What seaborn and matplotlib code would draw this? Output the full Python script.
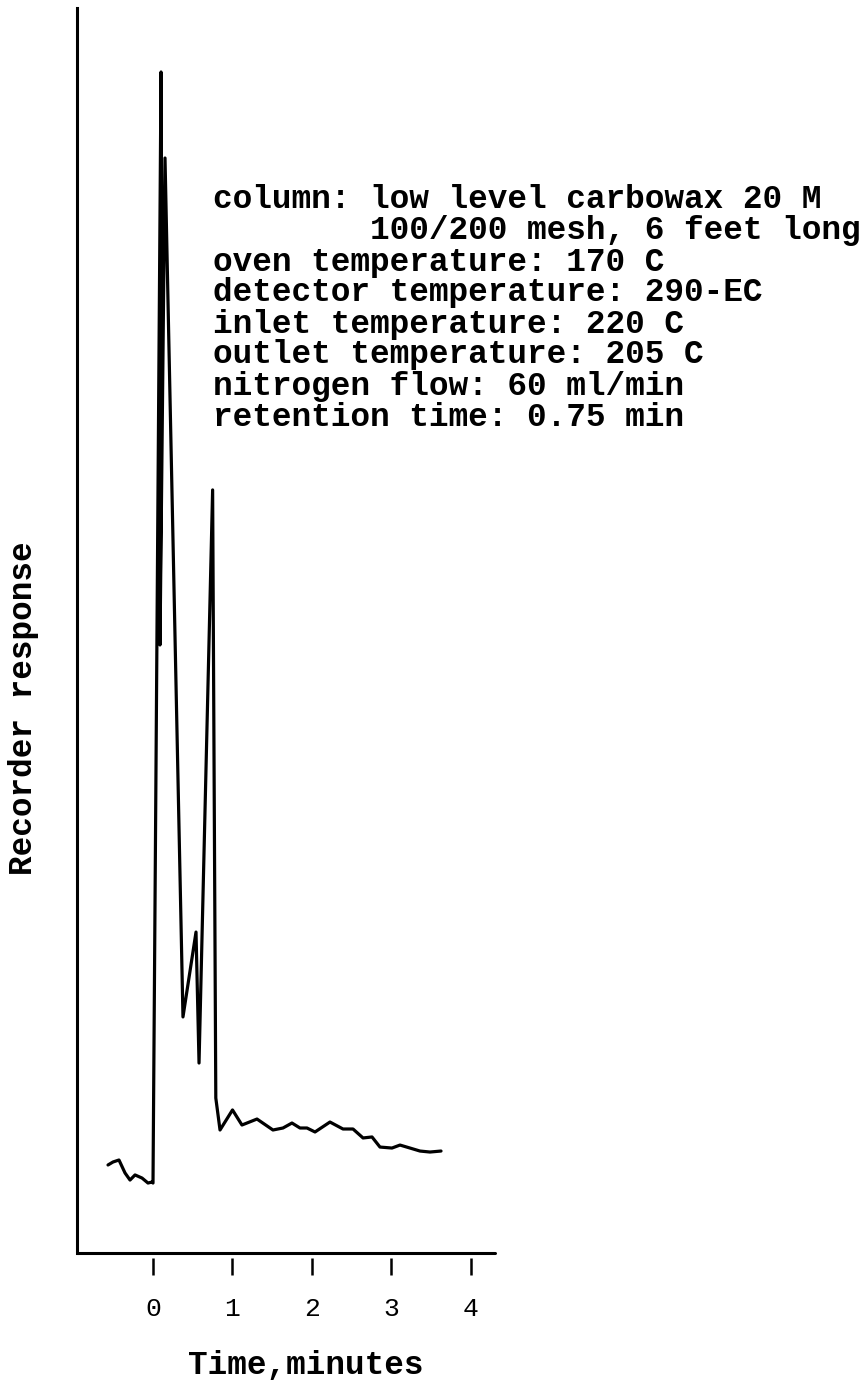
import matplotlib
matplotlib.use("Agg")
import matplotlib.pyplot as plt
import numpy as np
import pandas as pd
import seaborn as sns

# Chromatogram trace: time after injection (min) vs recorder response (% of full scale)
time_min = [-0.566, -0.503, -0.428, -0.352, -0.289, -0.226, -0.138, -0.063, -0.013,
            0.000, 0.101, 0.113, 0.088, 0.151, 0.377, 0.541, 0.579,
            0.750, 0.790, 0.843, 1.000, 1.119, 1.308, 1.509, 1.635, 1.748,
            1.849, 1.937, 2.038, 2.226, 2.390, 2.516, 2.642, 2.755, 2.855,
            3.006, 3.107, 3.233, 3.358, 3.484, 3.623]
response = [7.07, 7.31, 7.47, 6.43, 5.86, 6.27, 6.02, 5.62, 5.70,
            5.62, 94.86, 76.55, 48.84, 87.95, 18.96, 25.78, 15.26,
            61.29, 12.45, 9.88, 11.49, 10.28, 10.76, 9.88, 10.04, 10.44,
            10.04, 10.04, 9.72, 10.52, 9.96, 9.96, 9.24, 9.32, 8.51,
            8.43, 8.67, 8.43, 8.19, 8.11, 8.19]

x_ticks = [0, 1, 2, 3, 4]
x_tick_labels = ["0", "1", "2", "3", "4"]

retention_time = 0.75
conditions = [
    "column: low level carbowax 20 M",
    "        100/200 mesh, 6 feet long",
    "oven temperature: 170 C",
    "detector temperature: 290-EC",
    "inlet temperature: 220 C",
    "outlet temperature: 205 C",
    "nitrogen flow: 60 ml/min",
    f"retention time: {retention_time:.2f} min",
]

df = pd.DataFrame({"time": time_min, "response": response})

sns.set_style("white")
plt.rcParams["font.family"] = ["Liberation Mono", "DejaVu Sans"]
plt.rcParams["text.color"] = "black"
plt.rcParams["axes.labelcolor"] = "black"
plt.rcParams["xtick.color"] = "black"

W, H = 866, 1381
fig = plt.figure(figsize=(W / 100, H / 100), dpi=100)
ax = fig.add_axes([77 / W, 128 / H, 418 / W, 1245 / H])

sns.lineplot(data=df, x="time", y="response", sort=False, estimator=None,
             color="black", linewidth=2.3, ax=ax)

ax.set_xlim(-0.956, 4.302)
ax.set_ylim(0, 100)

# axes frame: left spine plus a baseline, ticks hang just below it
for side in ("top", "right"):
    ax.spines[side].set_visible(False)
ax.spines["left"].set_linewidth(2.2)
ax.spines["left"].set_color("black")
ax.spines["bottom"].set_position(("outward", 3.6))
ax.spines["bottom"].set_visible(False)
ax.axhline(0, color="black", linewidth=2.2, clip_on=False)

ax.set_xticks(x_ticks)
ax.set_xticklabels(x_tick_labels)
ax.set_yticks([])
ax.tick_params(axis="x", direction="out", length=12.2, width=1.8, pad=16,
               labelsize=19, colors="black", bottom=True)

ax.set_xlabel("Time,minutes", fontsize=23.5, fontweight="bold")
ax.xaxis.label.set_va("center")
ax.xaxis.set_label_coords((306 - 77) / 418, (1253 - 1365) / 1245)

ax.set_ylabel("Recorder response", fontsize=23.5, fontweight="bold")
ax.yaxis.label.set_va("center")
ax.yaxis.set_label_coords((24 - 77) / 418, (1253 - 708) / 1245)

# operating conditions block
for i, line in enumerate(conditions):
    fig.text(213 / W, 1 - (200 + 31 * i) / H, line, fontsize=23.6,
             fontweight="bold", ha="left", va="center")

fig.savefig("out.png", dpi=100, facecolor="white")
